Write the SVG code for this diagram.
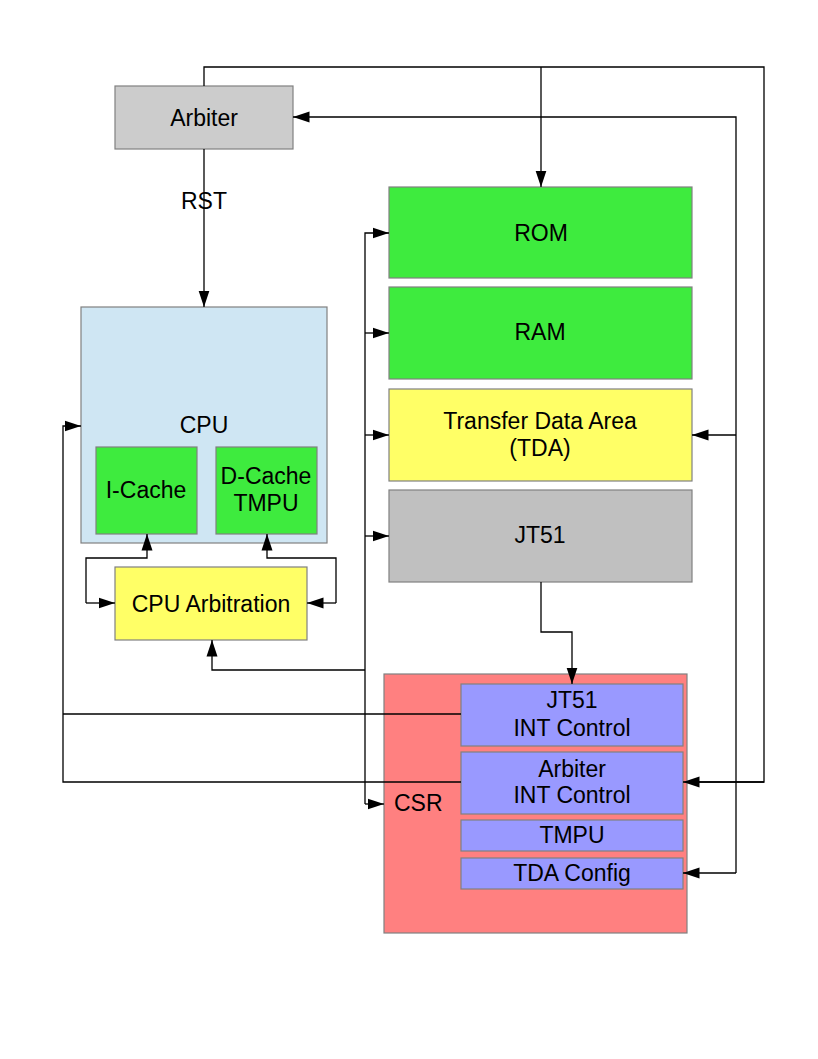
<svg xmlns="http://www.w3.org/2000/svg" width="818" height="1059" viewBox="0 0 818 1059">
<style>
.b{stroke:#808080;stroke-width:1.2}
.t{font-family:"Liberation Sans",Arial,sans-serif;font-size:23px;fill:#000;text-anchor:middle}
.c{fill:none;stroke:#000;stroke-width:1.3}
.a{marker-end:url(#ah)}
</style>
<defs>
<marker id="ah" markerUnits="userSpaceOnUse" markerWidth="18" markerHeight="13" refX="16.5" refY="6" orient="auto">
<path d="M0,0.5 L16.5,6 L0,11.5 z" fill="#000"/>
</marker>
</defs>
<rect width="818" height="1059" fill="#fff"/>
<g id="arbiter">
<rect class="b" x="115" y="86" width="178" height="63" fill="#cccccc"/>
<text class="t" x="204" y="126">Arbiter</text>
</g>
<g id="cpu">
<rect class="b" x="81" y="307" width="246" height="236" fill="#cfe6f3"/>
<text class="t" x="204" y="433">CPU</text>
</g>
<g id="icache">
<rect class="b" x="96" y="447" width="101" height="87" fill="#3eeb3e"/>
<text class="t" x="146" y="498">I-Cache</text>
</g>
<g id="dcache">
<rect class="b" x="216" y="447" width="101" height="87" fill="#3eeb3e"/>
<text class="t" x="266" y="484">D-Cache</text>
<text class="t" x="266" y="511">TMPU</text>
</g>
<g id="cpu-arbitration">
<rect class="b" x="115" y="567" width="192" height="73" fill="#ffff66"/>
<text class="t" x="211" y="612">CPU Arbitration</text>
</g>
<g id="rom">
<rect class="b" x="389" y="187" width="303" height="91" fill="#3eeb3e"/>
<text class="t" x="541" y="241">ROM</text>
</g>
<g id="ram">
<rect class="b" x="389" y="287" width="303" height="92" fill="#3eeb3e"/>
<text class="t" x="540" y="340">RAM</text>
</g>
<g id="tda">
<rect class="b" x="389" y="389" width="303" height="92" fill="#ffff66"/>
<text class="t" x="540" y="429">Transfer Data Area</text>
<text class="t" x="540" y="456">(TDA)</text>
</g>
<g id="jt51">
<rect class="b" x="389" y="490" width="303" height="92" fill="#c0c0c0"/>
<text class="t" x="540" y="543">JT51</text>
</g>
<g id="csr">
<rect class="b" x="384" y="674" width="303" height="259" fill="#ff8080"/>
<text class="t" x="394" y="811" style="text-anchor:start">CSR</text>
</g>
<g id="jt51-int">
<rect class="b" x="461" y="684" width="222" height="62" fill="#9999ff"/>
<text class="t" x="572" y="708">JT51</text>
<text class="t" x="572" y="736">INT Control</text>
</g>
<g id="arbiter-int">
<rect class="b" x="461" y="752" width="222" height="62" fill="#9999ff"/>
<text class="t" x="572" y="777">Arbiter</text>
<text class="t" x="572" y="803">INT Control</text>
</g>
<g id="tmpu">
<rect class="b" x="461" y="820" width="222" height="31" fill="#9999ff"/>
<text class="t" x="572" y="843">TMPU</text>
</g>
<g id="tda-config">
<rect class="b" x="461" y="858" width="222" height="31" fill="#9999ff"/>
<text class="t" x="572" y="881">TDA Config</text>
</g>
<g id="connectors">
<polyline class="c" points="204,86 204,67 764,67 764,782 698,782"/>
<line class="c a" x1="541" y1="67" x2="541" y2="187"/>
<polyline class="c a" points="736,873 736,117 293,117"/>
<line class="c a" x1="736" y1="435" x2="692" y2="435"/>
<line class="c a" x1="736" y1="873" x2="683" y2="873"/>
<line class="c a" x1="764" y1="782" x2="683" y2="782"/>
<line class="c a" x1="204" y1="149" x2="204" y2="307"/>
<polyline class="c a" points="461,782 63,782 63,426 81,426"/>
<line class="c" x1="461" y1="714" x2="63" y2="714"/>
<polyline class="c a" points="365,804 365,233 389,233"/>
<line class="c a" x1="365" y1="333" x2="389" y2="333"/>
<line class="c a" x1="365" y1="435" x2="389" y2="435"/>
<line class="c a" x1="365" y1="536" x2="389" y2="536"/>
<line class="c a" x1="365" y1="804" x2="384" y2="804"/>
<polyline class="c a" points="365,670 212,670 212,640"/>
<polyline class="c a" points="541,582 541,632 572,632 572,684"/>
<polyline class="c a" points="86,603 86,558 147,558 147,534"/>
<line class="c a" x1="86" y1="603" x2="115" y2="603"/>
<polyline class="c a" points="336,603 336,558 267,558 267,534"/>
<line class="c a" x1="336" y1="603" x2="307" y2="603"/>
<text class="t" x="204" y="209">RST</text>
</g>
</svg>
